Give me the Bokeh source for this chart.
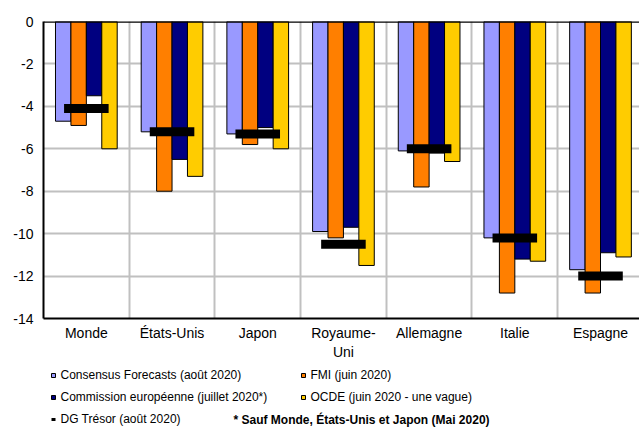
from bokeh.plotting import figure
from bokeh.layouts import column
from bokeh.models import Legend, LegendItem, Span, Label, FixedTicker, Range1d
from bokeh.embed import file_html
from bokeh.resources import INLINE

# ---- data ----
countries = ["Monde", "États-Unis", "Japon", "Royaume-\nUni", "Allemagne", "Italie", "Espagne"]
consensus = [-4.7, -5.2, -5.3, -9.9, -6.1, -10.2, -11.7]
fmi = [-4.9, -8.0, -5.8, -10.2, -7.8, -12.8, -12.8]
commission = [-3.5, -6.5, -5.0, -9.7, -6.2, -11.2, -10.9]
ocde = [-6.0, -7.3, -6.0, -11.5, -6.6, -11.3, -11.1]
dg_tresor = [-4.1, -5.2, -5.3, -10.5, -6.0, -10.2, -12.0]
y_ticks = [0, -2, -4, -6, -8, -10, -12, -14]
y_tick_labels = ["0", "-2", "-4", "-6", "-8", "-10", "-12", "-14"]
series_names = ["Consensus Forecasts (août 2020)", "FMI (juin 2020)",
                "Commission européenne (juillet 2020*)", "OCDE (juin 2020 - une vague)",
                "DG Trésor (août 2020)"]
note = "* Sauf Monde, États-Unis et Japon (Mai 2020)"

colors = ["#9999FF", "#FF7F00", "#000080", "#FFCC00"]
FONT = "Liberation Sans"

centers = [i + 0.5 for i in range(len(countries))]

p = figure(width=639, height=362, output_backend="svg", toolbar_location=None,
           x_range=Range1d(0, 6.955), y_range=Range1d(-14, 0),
           min_border_left=43, min_border_right=0, min_border_top=21, min_border_bottom=42)
p.outline_line_color = None
p.background_fill_color = "white"

# grid
p.xgrid.ticker = FixedTicker(ticks=[1, 2, 3, 4, 5, 6])
p.ygrid.ticker = FixedTicker(ticks=[-2, -4, -6, -8, -10, -12])
for g in (p.xgrid, p.ygrid):
    g.grid_line_color = "#C0C0C0"
    g.grid_line_width = 2

# bars
offsets = [-0.27, -0.09, 0.09, 0.27]
series = [consensus, fmi, commission, ocde]
for vals, off, col in zip(series, offsets, colors):
    p.vbar(x=[c + off for c in centers], top=0, bottom=vals, width=0.18,
           fill_color=col, line_color="black", line_width=1)

p.rect(x=centers, y=dg_tresor, width=0.52, height=9, height_units="screen",
       fill_color="black", line_color=None)

# zero line
p.add_layout(Span(location=0, dimension="width", line_color="black", line_width=2.5))

# axes
p.xaxis.ticker = FixedTicker(ticks=centers)
p.xaxis.major_label_overrides = {c: n for c, n in zip(centers, countries)}
p.yaxis.ticker = FixedTicker(ticks=y_ticks)
p.yaxis.major_label_overrides = {t: l for t, l in zip(y_ticks, y_tick_labels)}
for ax in (p.xaxis[0], p.yaxis[0]):
    ax.axis_line_color = "black"
    ax.axis_line_width = 2
    ax.major_tick_out = 0
    ax.major_tick_in = 0
    ax.minor_tick_out = 0
    ax.minor_tick_in = 0
    ax.major_label_text_font = FONT
    ax.major_label_text_font_size = "14px"
    ax.major_label_text_color = "black"
p.xaxis.major_label_standoff = 6
p.yaxis.major_label_standoff = 10

# ---- legend panel ----
lf = figure(width=639, height=66, output_backend="svg", toolbar_location=None,
            x_range=Range1d(0, 1), y_range=Range1d(0, 1),
            x_axis_type=None, y_axis_type=None,
            min_border_left=0, min_border_right=0, min_border_top=0, min_border_bottom=0)
lf.outline_line_color = None
lf.xgrid.visible = False
lf.ygrid.visible = False

nan = float("nan")
proxies = []
for col in colors:
    proxies.append(lf.scatter(x=[nan], y=[nan], marker="square", size=7,
                              fill_color=col, line_color="black", line_width=1))
dash = lf.scatter(x=[nan], y=[nan], marker="dash", size=8, line_color="black", line_width=3)

def make_legend(items, loc):
    return Legend(items=items, location=loc, orientation="vertical",
                  padding=0, margin=0, spacing=2, glyph_width=10, glyph_height=20,
                  label_height=20, label_standoff=3,
                  label_text_font=FONT, label_text_font_size="12px",
                  label_text_color="black", border_line_alpha=0,
                  background_fill_alpha=0)

leg1 = make_legend([LegendItem(label=series_names[0], renderers=[proxies[0]]),
                    LegendItem(label=series_names[2], renderers=[proxies[2]]),
                    LegendItem(label=series_names[4], renderers=[dash])], (4.5, -1))
leg2 = make_legend([LegendItem(label=series_names[1], renderers=[proxies[1]]),
                    LegendItem(label=series_names[3], renderers=[proxies[3]])], (254.5, 21))
lf.add_layout(leg1, "center")
lf.add_layout(leg2, "center")

lf.add_layout(Label(x=190, y=9, x_units="screen", y_units="screen", text=note,
                    text_font=FONT, text_font_size="12px", text_font_style="bold",
                    text_color="black", text_baseline="middle"))

layout = column(p, lf, spacing=0)
open("out.html", "w").write(file_html(layout, INLINE))
